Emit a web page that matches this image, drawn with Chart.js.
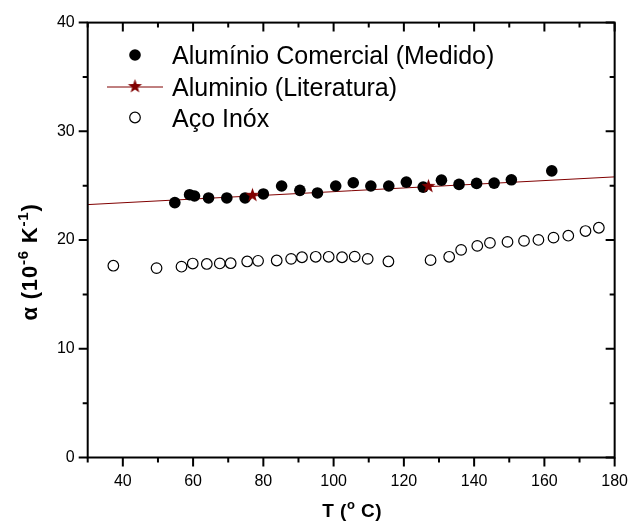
<!DOCTYPE html>
<html>
<head>
<meta charset="utf-8">
<script src="https://cdn.jsdelivr.net/npm/chart.js@4/dist/chart.umd.min.js"></script>
<style>
  html, body { margin: 0; padding: 0; background: #fff; }
  #wrap { width: 642px; height: 524px; }
</style>
</head>
<body>
<div id="wrap"><canvas id="chart" width="642" height="524"></canvas></div>
<script>
// Alumínio Comercial (Medido)
const aluT = [54.8, 59.0, 60.4, 64.4, 69.6, 74.8, 80.0, 85.2, 90.4, 95.4, 100.6, 105.6,
              110.6, 115.7, 120.7, 125.5, 130.7, 135.7, 140.7, 145.7, 150.6, 162.1];
const aluAlpha = [23.44, 24.17, 24.05, 23.87, 23.87, 23.87, 24.24, 24.97, 24.57, 24.33, 24.97, 25.27,
                  24.97, 24.97, 25.33, 24.87, 25.51, 25.12, 25.21, 25.24, 25.54, 26.36];

// Aluminio (Literatura): stars + straight line
const litT = [76.9, 127.0];
const litAlpha = [24.12, 24.94];
const fitT = [30, 180];
const fitAlpha = [23.26, 25.81];

// Aço Inóx
const inoxT = [37.3, 49.6, 56.7, 59.9, 63.9, 67.6, 70.7, 75.4, 78.5, 83.8, 87.9, 91.0, 94.9, 98.6,
               102.4, 106.0, 109.7, 115.6, 127.6, 132.9, 136.3, 140.9, 144.5, 149.5, 154.2, 158.3,
               162.6, 166.8, 171.7, 175.5];
const inoxAlpha = [17.64, 17.42, 17.55, 17.84, 17.80, 17.85, 17.87, 18.03, 18.09, 18.12, 18.27, 18.42,
                   18.46, 18.46, 18.42, 18.48, 18.27, 18.03, 18.15, 18.46, 19.10, 19.46, 19.74, 19.83,
                   19.92, 20.01, 20.22, 20.40, 20.83, 21.13];

// ticks
const xTicks = [40, 60, 80, 100, 120, 140, 160, 180];
const xMinor = [30, 50, 70, 90, 110, 130, 150, 170];
const yTicks = [0, 10, 20, 30, 40];
const yMinor = [5, 15, 25, 35];

const legendLabels = ['Alumínio Comercial (Medido)', 'Aluminio (Literatura)', 'Aço Inóx'];

const FONT = '"Liberation Sans", Arial, sans-serif';
const RED = '#800000';

const pts = (xs, ys) => xs.map((x, i) => ({ x: x, y: ys[i] }));

// five pointed star marker
function makeStar(R) {
    const c = document.createElement('canvas');
    const s = Math.ceil(R * 2 + 2);
    c.width = s; c.height = s;
    const g = c.getContext('2d');
    const cx = s / 2, cy = s / 2, r = R * 0.4;
    g.beginPath();
    for (let i = 0; i < 10; i++) {
        const rad = i % 2 === 0 ? R : r;
        const a = -Math.PI / 2 + i * Math.PI / 5;
        g.lineTo(cx + rad * Math.cos(a), cy + rad * Math.sin(a));
    }
    g.closePath();
    g.fillStyle = RED;
    g.fill();
    return c;
}
const starImg = makeStar(7.4);

// draw text pieces with superscripts, centred on 0
function drawRich(ctx, parts, size, spacing) {
    const sup = Math.round(size * 0.68);
    ctx.letterSpacing = spacing + 'px';
    let total = 0;
    parts.forEach(p => {
        ctx.font = 'bold ' + (p.sup ? sup : size) + 'px ' + FONT;
        p.w = ctx.measureText(p.t).width;
        total += p.w;
    });
    let x = -total / 2;
    ctx.textAlign = 'left';
    ctx.textBaseline = 'alphabetic';
    parts.forEach(p => {
        ctx.font = 'bold ' + (p.sup ? sup : size) + 'px ' + FONT;
        ctx.fillText(p.t, x, p.sup ? -size * 0.4 : 0);
        x += p.w;
    });
    ctx.letterSpacing = '0px';
}

const framePlugin = {
    id: 'frame',
    afterDraw(chart) {
        const ctx = chart.ctx;
        const a = chart.chartArea;
        const xs = chart.scales.x, ys = chart.scales.y;
        ctx.save();
        ctx.strokeStyle = '#000';
        ctx.lineWidth = 2;
        ctx.strokeRect(a.left, a.top, a.right - a.left, a.bottom - a.top);

        const major = 9, minor = 5;
        ctx.beginPath();
        const xt = (v, len) => {
            const p = xs.getPixelForValue(v);
            ctx.moveTo(p, a.bottom); ctx.lineTo(p, a.bottom + len);
            ctx.moveTo(p, a.top); ctx.lineTo(p, a.top + len);
        };
        const yt = (v, len) => {
            const p = ys.getPixelForValue(v);
            ctx.moveTo(a.left, p); ctx.lineTo(a.left - len, p);
            ctx.moveTo(a.right, p); ctx.lineTo(a.right - len, p);
        };
        xTicks.forEach(v => xt(v, major));
        xMinor.forEach(v => xt(v, minor));
        yTicks.forEach(v => yt(v, major));
        yMinor.forEach(v => yt(v, minor));
        ctx.stroke();

        // axis titles
        ctx.fillStyle = '#000';
        ctx.save();
        ctx.translate((a.left + a.right) / 2 + 1, 517);
        drawRich(ctx, [{ t: 'T (' }, { t: 'o', sup: true }, { t: ' C)' }], 19, 0.5);
        ctx.restore();

        ctx.save();
        ctx.translate(37, 262);
        ctx.rotate(-Math.PI / 2);
        drawRich(ctx, [{ t: 'α (10' }, { t: '-6', sup: true }, { t: ' K' }, { t: '-1', sup: true }, { t: ')' }], 22, 0.8);
        ctx.restore();

        // legend
        const mx = 135, tx = 172, rows = [55, 86.5, 117.5];
        ctx.font = '25px ' + FONT;
        ctx.textAlign = 'left';
        ctx.textBaseline = 'alphabetic';
        legendLabels.forEach((l, i) => ctx.fillText(l, tx, rows[i] + 9));

        ctx.beginPath();
        ctx.arc(mx, rows[0], 5.8, 0, Math.PI * 2);
        ctx.fillStyle = '#000';
        ctx.fill();

        ctx.beginPath();
        ctx.strokeStyle = RED;
        ctx.lineWidth = 1;
        ctx.moveTo(107, rows[1] + 0.5); ctx.lineTo(163, rows[1] + 0.5);
        ctx.stroke();
        ctx.drawImage(starImg, mx - starImg.width / 2, rows[1] - starImg.height / 2);

        ctx.beginPath();
        ctx.arc(mx, rows[2], 5.3, 0, Math.PI * 2);
        ctx.strokeStyle = '#000';
        ctx.lineWidth = 1.2;
        ctx.stroke();
        ctx.restore();
    }
};

new Chart(document.getElementById('chart'), {
    type: 'scatter',
    data: {
        datasets: [
            { label: legendLabels[1], data: pts(litT, litAlpha), pointStyle: starImg,
              pointRadius: 7, order: 0 },
            { label: legendLabels[0], data: pts(aluT, aluAlpha), pointRadius: 5.8,
              backgroundColor: '#000', borderWidth: 0, order: 1 },
            { label: 'fit', data: pts(fitT, fitAlpha), showLine: true, pointRadius: 0,
              borderColor: RED, borderWidth: 1, order: 2 },
            { label: legendLabels[2], data: pts(inoxT, inoxAlpha), pointRadius: 5.3,
              backgroundColor: 'rgba(255,255,255,0)', borderColor: '#000', borderWidth: 1.2, order: 3 }
        ]
    },
    options: {
        responsive: false,
        animation: false,
        devicePixelRatio: 1,
        layout: { padding: { top: 19, right: 16, left: 0, bottom: 0 } },
        plugins: { legend: { display: false }, tooltip: { enabled: false } },
        scales: {
            x: {
                type: 'linear', min: 30, max: 180,
                afterBuildTicks: s => { s.ticks = xTicks.map(v => ({ value: v })); },
                afterFit: s => { s.height = 66.5; },
                grid: { display: false, drawTicks: false },
                border: { display: false },
                ticks: { padding: 14, color: '#000', font: { family: FONT, size: 16 }, maxRotation: 0 }
            },
            y: {
                type: 'linear', min: 0, max: 40,
                afterBuildTicks: s => { s.ticks = yTicks.map(v => ({ value: v })); },
                afterFit: s => { s.width = 87.7; },
                grid: { display: false, drawTicks: false },
                border: { display: false },
                ticks: { padding: 13, color: '#000', font: { family: FONT, size: 16 } }
            }
        }
    },
    plugins: [framePlugin]
});
</script>
</body>
</html>
